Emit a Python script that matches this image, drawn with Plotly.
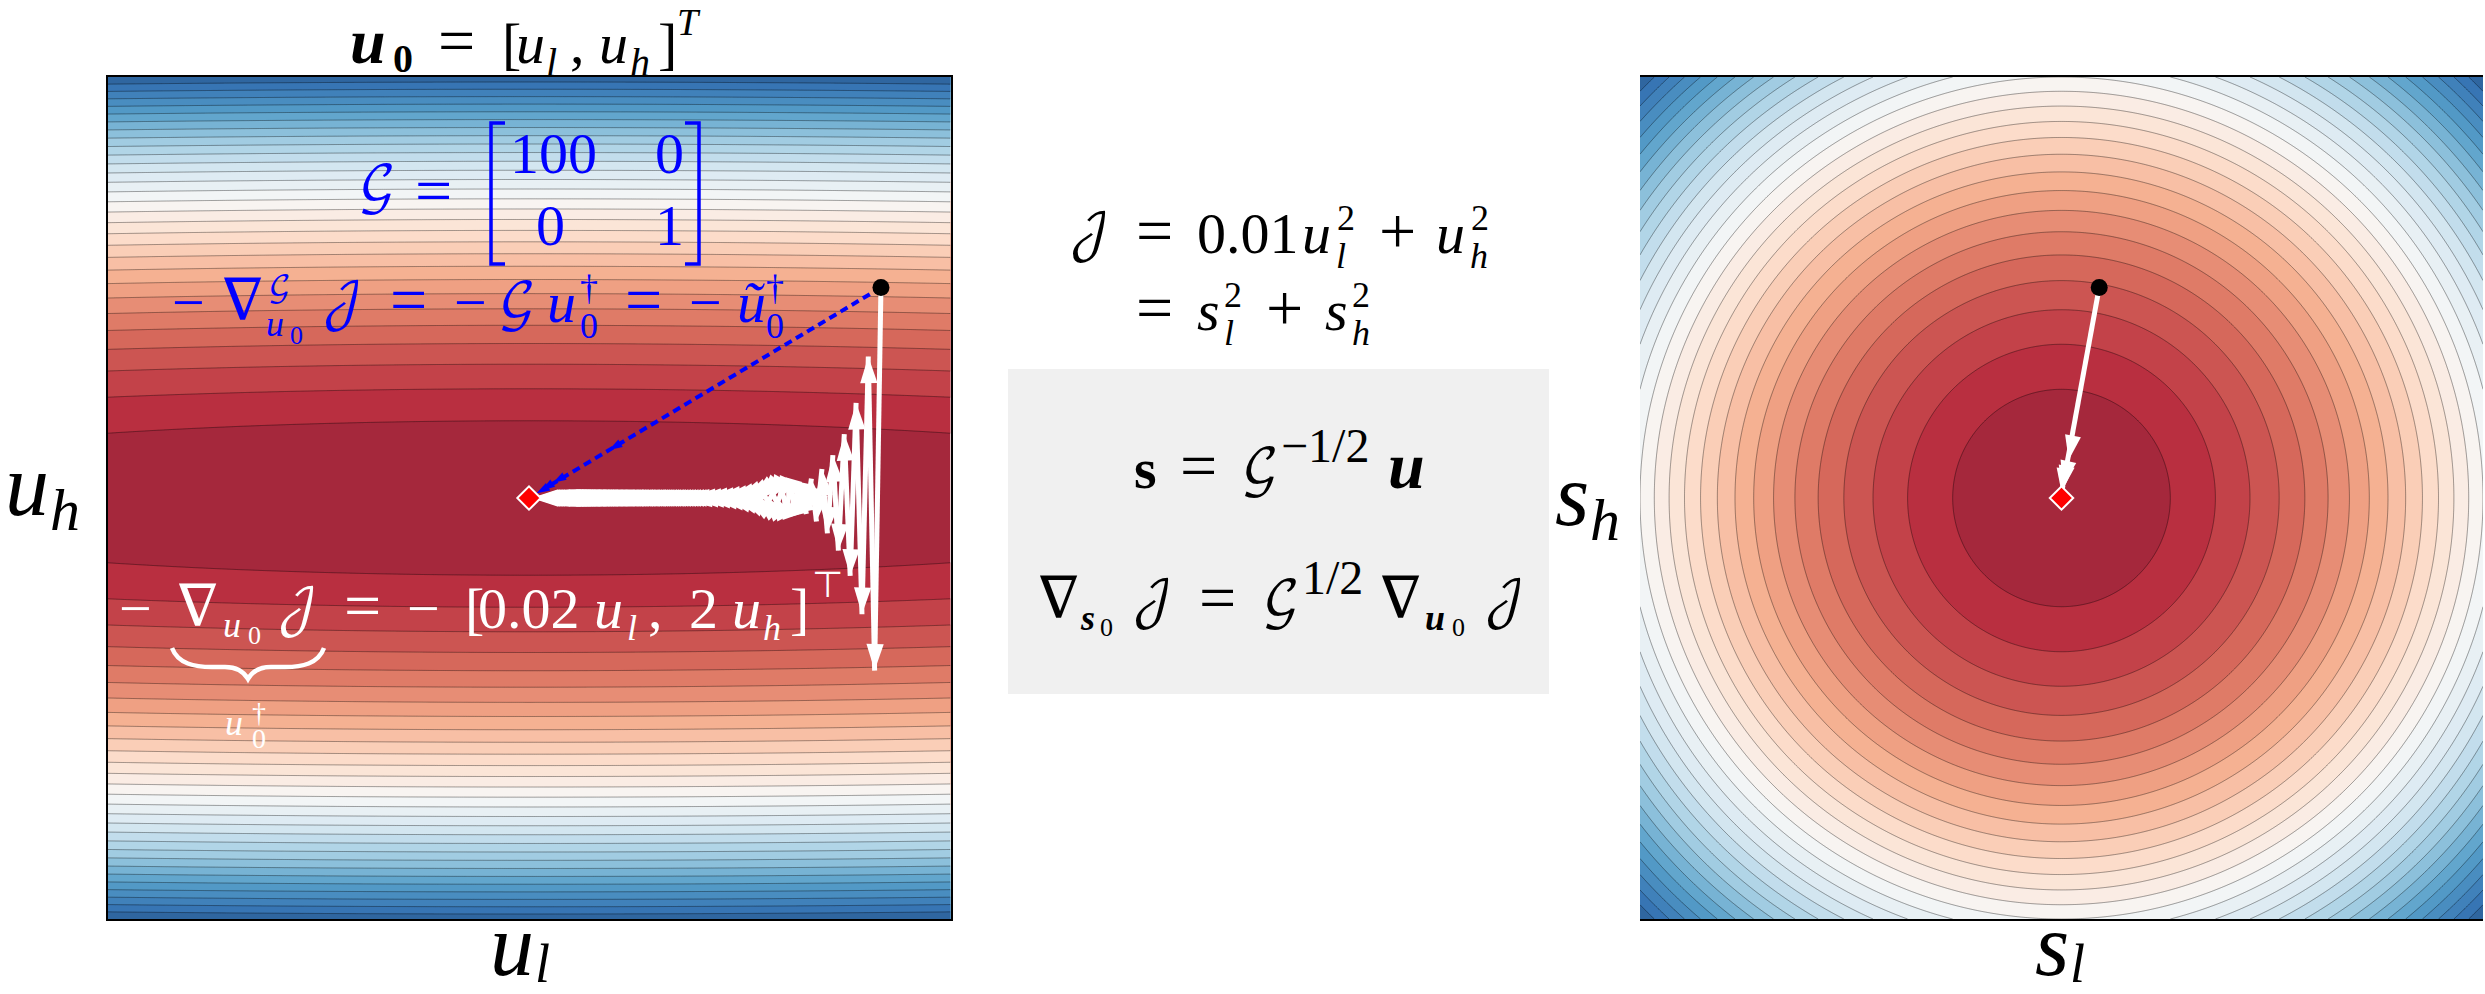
import numpy as np
import plotly.graph_objects as go

W, H = 2485, 994
# plot boxes in px
LX, RX, PY = (107.5, 950.5), (1640, 2483), (77, 919)

grid = np.linspace(-1, 1, 401)
n_bands = 30

# gradient-descent path on the left panel
path_ul = [.835,.820,.805,.790,.776,.762,.748,.734,.721,.708,.695,.682,.670,.658,.646,.634,.622,.611,.600,.589,
           .578,.568,.557,.547,.537,.527,.518,.508,.499,.490,.481,.472,.464,.455,.447,.439,.431,.423,.415,.408,
           .400,.393,.386,.379,.372,.365,.358,.352,.345,.339,.333,.327,.321,.315,.309,.304,.298,.293,.288,.282,
           .277,.272,.267,.262,.258,.253,.248,.244,.239,.235,.231,.227,.222,.218,.214,.210,.207,.203,.199,.196,
           .192,.188,.185,.182,.178,.175,.172,.169,.166,.163,.160,.157,.154,.151,.148,.146,.143,.140,.138,.135,
           .133,.130,.128,.126,.123,.121,.119,.117,.115,.113,.110,.108,.106,.105,.103,.101,.099,.097,.095,.094,
           .092,.090,.089,.087,.085,.084,.082,.081,.079,.078,.076,.075,.074,.072,.071,.070,.068,.067,.066,.065,
           .064,.062,.061,.060,.059,.058,.057,.056,.055,.054,.053,.052,.051,.050,.048,.046,.044,.042,.040,.038,
           .036,.034,.033,.030,.026,.022,.018,.014,.010,.006]
path_uh = [.5,-.41,.336,-.276,.226,-.185,.152,-.125,.102,-.084,.069,-.056,.046,-.038,.031,-.025,.021,-.017,.014,-.0115,
           .0095,-.0078,.0064,-.0052,.0043,-.0035,.0029,-.0024,.0019,-.0016,.0013,-.0011,.0009,-.0007,.0006,-.0005,.0004,-.0003,.0003,-.0002,
           .0002,-.00015,.00012,-.0001,.00008] + [0] * 125
# preconditioned path on the left panel
nat_ul = [.835, .19, .057, .03, .018]
nat_uh = [.5, .114, .036, .018, .011]
# path on the right panel
path_sl = [.0895, .017, .0035, .0012, .0005]
path_sh = [.5, .09, .03, .018, .012]
start_left, start_right, optimum = ([.835], [.5]), ([.0895], [.5]), ([0], [0])


def mix(t):
    stops = [(0, (103, 0, 31)), (.1, (178, 24, 43)), (.2, (214, 96, 77)), (.3, (244, 165, 130)), (.4, (253, 219, 199)),
             (.5, (247, 247, 247)), (.6, (209, 229, 240)), (.7, (146, 197, 222)), (.8, (67, 147, 195)),
             (.9, (33, 102, 172)), (1, (5, 48, 97))]
    rgb = [np.interp(t, [s[0] for s in stops], [s[1][k] for s in stops]) for k in range(3)]
    return 'rgb(%d,%d,%d)' % tuple(.9 * c + .1 * 255 for c in rgb)


cols = [mix(.07 + .86 * i / (n_bands - 1)) for i in range(n_bands)]
cscale = [[i / (n_bands - 1), c] for i, c in enumerate(cols)]

fig = go.Figure()
X, Y = np.meshgrid(grid, grid)


def contour(z, xa, ya):
    step = z.max() / n_bands
    fig.add_trace(go.Contour(x=grid, y=grid, z=z, xaxis=xa, yaxis=ya, autocontour=False,
                             contours=dict(start=step, end=step * (n_bands - 1) + step * .01, size=step, coloring='fill'),
                             colorscale=cscale, showscale=False, hoverinfo='skip',
                             line=dict(color='rgba(0,0,0,0.38)', width=1, smoothing=0)))


contour(.01 * X ** 2 + Y ** 2, 'x', 'y')
contour(X ** 2 + Y ** 2, 'x2', 'y2')


def arrows(x, y, xa, ya, color, lw, ms, dash='solid'):
    fig.add_trace(go.Scatter(x=x, y=y, xaxis=xa, yaxis=ya, mode='lines+markers', hoverinfo='skip', showlegend=False,
                             line=dict(color=color, width=lw, dash=dash),
                             marker=dict(symbol='arrow', angleref='previous', color=color, opacity=1,
                                         size=[0] + [ms] * (len(x) - 1), line=dict(width=0))))


def point(p, xa, ya, symbol, size, color, lc, lw):
    fig.add_trace(go.Scatter(x=p[0], y=p[1], xaxis=xa, yaxis=ya, mode='markers', hoverinfo='skip', showlegend=False,
                             marker=dict(symbol=symbol, size=size, color=color, line=dict(color=lc, width=lw))))


arrows(path_ul, path_uh, 'x', 'y', 'white', 5, 28)
arrows(nat_ul, nat_uh, 'x', 'y', 'blue', 4, 14, '8px,5px')
arrows(path_sl, path_sh, 'x2', 'y2', 'white', 5, 26)
for xa, ya, st in (('x', 'y', start_left), ('x2', 'y2', start_right)):
    point(st, xa, ya, 'circle', 17, 'black', 'black', 0)
    point(optimum, xa, ya, 'diamond', 18, 'red', 'white', 2)

SERIF = 'Liberation Serif'
MATH = 'DejaVu Math TeX Gyre, Liberation Serif, serif'
G, J, NABLA = '\U0001D4A2', '\U0001D4A5', '\u2207'
BLUE, WHITE, BLACK = 'blue', 'white', 'black'
S = 58
E = 66
s = 36
# (left x px, baseline y px, text, size, colour)
pieces = [
    # title
    (350, 63, '<b><i>u</i></b>', 64, BLACK), (393, 72, '<b>0</b>', 40, BLACK), (438, 63, '=', E, BLACK),
    (502, 63, '[', S, BLACK), (516, 63, '<i>u</i>', S, BLACK), (546, 76, '<i>l</i>', 40, BLACK), (570, 63, ',', S, BLACK),
    (599, 63, '<i>u</i>', S, BLACK), (630, 76, '<i>h</i>', 40, BLACK), (658, 63, ']', S, BLACK), (677, 35, '<i>T</i>', 38, BLACK),
    # metric
    (358, 205, G, 50, BLUE), (415, 213, '=', E, BLUE),
    (510, 173, '100', S, BLUE), (655, 173, '0', S, BLUE), (536, 245, '0', S, BLUE), (655, 245, '1', S, BLUE),
    # natural gradient
    (172, 322, '\u2212', S, BLUE), (217, 322, NABLA, S, BLUE), (268, 298, G, 30, BLUE), (266, 336, '<i>u</i>', s, BLUE),
    (290, 344, '0', 26, BLUE), (322, 322, J, 50, BLUE), (390, 322, '=', E, BLUE), (454, 322, '\u2212', S, BLUE),
    (498, 322, G, 50, BLUE), (547, 322, '<i>u</i>', S, BLUE), (580, 300, '\u2020', s, BLUE), (580, 338, '0', s, BLUE),
    (625, 322, '=', E, BLUE), (689, 322, '\u2212', S, BLUE), (737, 322, '<i>\u0169</i>', S, BLUE), (766, 300, '\u2020', s, BLUE),
    (766, 338, '0', s, BLUE),
    # euclidean gradient
    (119, 628, '\u2212', S, WHITE), (172, 628, NABLA, S, WHITE), (223, 637, '<i>u</i>', s, WHITE), (248, 644, '0', 26, WHITE),
    (277, 628, J, 50, WHITE), (344, 628, '=', E, WHITE), (407, 628, '\u2212', S, WHITE), (465, 628, '[', S, WHITE),
    (478, 628, '0.02', S, WHITE), (594, 628, '<i>u</i>', S, WHITE), (627, 640, '<i>l</i>', s, WHITE), (648, 628, ',', S, WHITE),
    (689, 628, '2', S, WHITE), (732, 628, '<i>u</i>', S, WHITE), (763, 640, '<i>h</i>', s, WHITE), (790, 628, ']', S, WHITE),
    (812, 597, '\u22A4', 36, WHITE), (225, 735, '<i>u</i>', 36, WHITE), (252, 722, '\u2020', 28, WHITE), (252, 748, '0', 28, WHITE),
    # objective
    (1069, 253, J, 50, BLACK), (1136, 253, '=', E, BLACK), (1197, 253, '0.01', S, BLACK), (1302, 253, '<i>u</i>', S, BLACK),
    (1337, 230, '2', s, BLACK), (1336, 268, '<i>l</i>', s, BLACK), (1379, 253, '+', E, BLACK), (1436, 253, '<i>u</i>', S, BLACK),
    (1471, 230, '2', s, BLACK), (1470, 268, '<i>h</i>', s, BLACK),
    (1136, 330, '=', E, BLACK), (1197, 330, '<i>s</i>', S, BLACK), (1224, 307, '2', s, BLACK), (1224, 345, '<i>l</i>', s, BLACK),
    (1266, 330, '+', E, BLACK), (1325, 330, '<i>s</i>', S, BLACK), (1352, 307, '2', s, BLACK), (1352, 345, '<i>h</i>', s, BLACK),
    # relations
    (1134, 488, '<b>s</b>', S, BLACK), (1180, 488, '=', E, BLACK), (1241, 488, G, 50, BLACK), (1281, 462, '\u22121/2', 48, BLACK),
    (1388, 488, '<b><i>u</i></b>', 66, BLACK),
    (1033, 620, NABLA, S, BLACK), (1080, 630, '<b><i>s</i></b>', s, BLACK), (1100, 636, '0', 26, BLACK), (1132, 620, J, 50, BLACK),
    (1199, 620, '=', E, BLACK), (1262, 620, G, 50, BLACK), (1302, 594, '1/2', 48, BLACK), (1375, 620, NABLA, S, BLACK),
    (1425, 630, '<b><i>u</i></b>', s, BLACK), (1452, 636, '0', 26, BLACK), (1484, 620, J, 50, BLACK),
    # axis labels
    (5, 515, '<i>u</i>', 88, BLACK), (50, 530, '<i>h</i>', 60, BLACK),
    (490, 975, '<i>u</i>', 88, BLACK), (535, 982, '<i>l</i>', 54, BLACK),
    (1555, 525, '<i>s</i>', 88, BLACK), (1590, 540, '<i>h</i>', 60, BLACK),
    (2035, 975, '<i>s</i>', 88, BLACK), (2070, 982, '<i>l</i>', 54, BLACK),
]

ann = [dict(x=x / W, y=1 - (b - .3375 * z) / H, xref='paper', yref='paper', xanchor='left', yanchor='middle',
            text=t, showarrow=False, font=dict(family=MATH if t in (G, J, NABLA) else SERIF, size=z, color=c), borderpad=0, borderwidth=0)
       for x, b, t, z, c in pieces]


def px(x, y):
    return f'{x / W:.5f},{1 - y / H:.5f}'


shapes = [
    dict(type='rect', xref='paper', yref='paper', x0=1008 / W, x1=1549 / W, y0=1 - 369 / H, y1=1 - 694 / H,
         fillcolor='#f0f0f0', line=dict(width=0), layer='below'),
    dict(type='path', xref='paper', yref='paper', line=dict(color='blue', width=3.5),
         path=f'M{px(505, 123)} L{px(491, 123)} L{px(491, 264)} L{px(505, 264)}'),
    dict(type='path', xref='paper', yref='paper', line=dict(color='blue', width=3.5),
         path=f'M{px(685, 123)} L{px(699, 123)} L{px(699, 264)} L{px(685, 264)}'),
    dict(type='path', xref='paper', yref='paper', line=dict(color='white', width=4.5),
         path=f'M{px(172, 648)} C{px(178, 664)} {px(195, 667)} {px(212, 667)} L{px(225, 667)} C{px(238, 667)} {px(244, 672)} {px(248, 679)} '
              f'C{px(252, 672)} {px(258, 667)} {px(271, 667)} L{px(285, 667)} C{px(302, 667)} {px(318, 664)} {px(324, 648)}'),
]

axis = dict(range=[-1, 1], showticklabels=False, ticks='', showgrid=False, zeroline=False, showline=True, mirror=True,
            linecolor='black', linewidth=1.5)
fig.update_layout(
    width=W, height=H, margin=dict(l=0, r=0, t=0, b=0), paper_bgcolor='white', plot_bgcolor='white', showlegend=False,
    xaxis=dict(axis, domain=[LX[0] / W, LX[1] / W]), yaxis=dict(axis, domain=[1 - PY[1] / H, 1 - PY[0] / H]),
    xaxis2=dict(axis, domain=[RX[0] / W, RX[1] / W]), yaxis2=dict(axis, domain=[1 - PY[1] / H, 1 - PY[0] / H]),
    annotations=ann, shapes=shapes)
fig.write_html('out.html', config=dict(displayModeBar=False),
               post_script="document.body.style.margin='0';document.body.style.overflow='hidden';")
